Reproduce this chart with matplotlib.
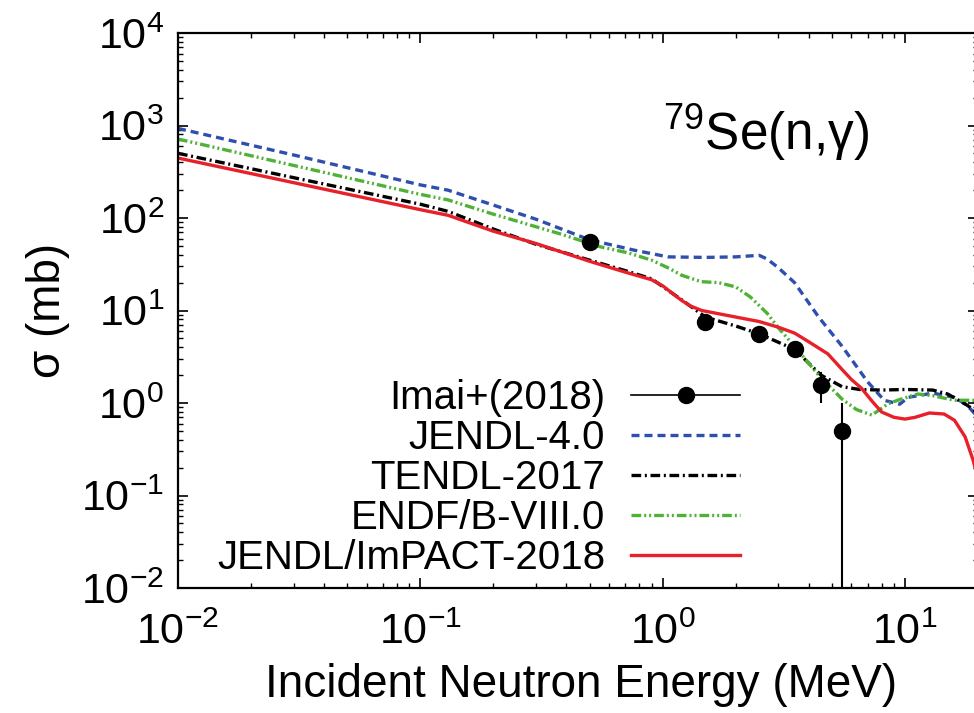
import matplotlib
matplotlib.use("Agg")
import matplotlib.pyplot as plt
from matplotlib.lines import Line2D
from matplotlib.ticker import LogLocator, NullFormatter

plt.rcParams['font.family'] = ['Liberation Sans', 'DejaVu Sans']
plt.rcParams['mathtext.default'] = 'regular'
plt.rcParams['axes.unicode_minus'] = False

# Imai+(2018) measured points
imai_e = [0.5, 1.5, 2.5, 3.5, 4.5, 5.5]
imai_xs = [55, 7.5, 5.6, 3.8, 1.57, 0.50]
imai_err_lo = [7, 0.9, 0.6, 0.5, 0.57, 0.4999]
imai_err_hi = [7, 0.9, 0.6, 0.5, 0.57, 0.5]

# JENDL-4.0
j40_e = [0.01, 0.03, 0.1, 0.13, 0.2, 0.3, 0.5, 0.76, 1.05, 1.5, 2.0, 2.5,
         2.7, 3.0, 3.5, 4.4, 5.5, 7.0, 8.2, 9.5, 10.3, 13, 16, 18, 20]
j40_xs = [930, 480, 228, 200, 138, 97, 58, 45, 38, 37.5, 38, 39.5,
          36, 29, 20, 8.5, 4.1, 1.7, 1.07, 0.97, 1.15, 1.28, 1.15, 0.95, 0.7]

# TENDL-2017
tendl_e = [0.01, 0.03, 0.1, 0.13, 0.2, 0.3, 0.5, 0.7, 0.9, 1.2, 1.5, 2.0,
           2.5, 3.5, 4.5, 5.5, 6.5, 8, 10, 13, 15, 18, 20]
tendl_xs = [500, 273, 141, 118, 76, 52, 35, 27, 22, 13, 8.5, 6.8,
            5.6, 3.8, 2.0, 1.5, 1.4, 1.38, 1.4, 1.38, 1.25, 0.95, 0.78]

# ENDF/B-VIII.0
endf_e = [0.01, 0.03, 0.1, 0.13, 0.2, 0.38, 0.55, 0.72, 0.9, 1.05, 1.2, 1.44,
          1.7, 2.0, 2.3, 2.7, 3.0, 3.5, 4.4, 5.5, 6.3, 7.3, 8.5, 9.6, 11.3,
          13, 16, 20]
endf_xs = [714, 370, 180, 157, 110, 67, 49, 42, 35, 29, 24, 20.5,
           20, 18, 14, 9.3, 6.5, 4.1, 2.0, 1.1, 0.85, 0.74, 0.98, 1.1, 1.25,
           1.2, 1.07, 1.07]

# JENDL/ImPACT-2018
imp_e = [0.01, 0.03, 0.1, 0.13, 0.2, 0.3, 0.5, 0.7, 0.8, 0.9, 1.0, 1.1,
         1.2, 1.3, 1.45, 2.0, 2.5, 3.0, 3.5, 4.0, 4.8, 5.5, 6.0, 6.6, 7.3,
         8.0, 9.0, 10.0, 11.0, 12.6, 14.5, 16, 17.7, 19.1, 20]
imp_xs = [445, 241, 123, 107, 72, 53, 34, 26, 23.5, 21.5, 18.5, 15.2,
          12.8, 11.2, 10, 8.5, 7.6, 6.6, 5.7, 4.6, 3.4, 2.3, 1.8, 1.45, 1.05,
          0.8, 0.7, 0.67, 0.7, 0.78, 0.76, 0.65, 0.43, 0.24, 0.15]

fig = plt.figure(figsize=(9.74, 7.13), dpi=100)
ax = fig.add_axes([178 / 974, 1 - 588 / 713, 800 / 974, 555 / 713])

lw = 2.4
ax.plot(j40_e, j40_xs, color='#2f4fae', lw=lw, linestyle=(0, (2.4, 1.5)))
ax.plot(tendl_e, tendl_xs, color='black', lw=lw,
        linestyle=(0, (2.9, 1.1, 0.6, 1.1)))
ax.plot(endf_e, endf_xs, color='#4fb236', lw=lw,
        linestyle=(0, (2.9, 0.9, 0.6, 0.9, 0.6, 0.9)))
ax.plot(imp_e, imp_xs, color='#e8202a', lw=lw)
ax.errorbar(imai_e, imai_xs, yerr=[imai_err_lo, imai_err_hi], fmt='o',
            color='black', ms=11.5, elinewidth=1.5, capsize=0, zorder=5)

ax.set_xscale('log')
ax.set_yscale('log')
ax.set_xlim(0.01, 20)
ax.set_ylim(0.01, 1e4)

for axis in (ax.xaxis, ax.yaxis):
    axis.set_major_locator(LogLocator(base=10, numticks=20))
    axis.set_minor_locator(LogLocator(base=10, subs=range(2, 10), numticks=100))
    axis.set_minor_formatter(NullFormatter())

ax.tick_params(which='both', direction='in', top=True, right=True)
ax.tick_params(which='major', length=7, width=1.2, labelsize=31)
ax.tick_params(which='minor', length=3.5, width=1.0)
ax.tick_params(axis='x', pad=18)
ax.tick_params(axis='y', pad=10)
for sp in ax.spines.values():
    sp.set_linewidth(1.6)

ax.set_xlabel('Incident Neutron Energy (MeV)', fontsize=33)
ax.xaxis.set_label_coords(0.504, -0.135)
ax.set_ylabel('σ (mb)', fontsize=33)
ax.yaxis.set_label_coords(-0.135, 0.5)

ax.text(0.606, 0.789, '$^{79}$Se(n,γ)', transform=ax.transAxes,
        fontsize=37, ha='left', va='baseline')

handles = [
    Line2D([], [], color='black', lw=1.2, marker='o', ms=11.5),
    Line2D([], [], color='#2f4fae', lw=lw, linestyle=(0, (2.4, 1.5))),
    Line2D([], [], color='black', lw=lw, linestyle=(0, (2.9, 1.1, 0.6, 1.1))),
    Line2D([], [], color='#4fb236', lw=lw,
           linestyle=(0, (2.9, 0.9, 0.6, 0.9, 0.6, 0.9))),
    Line2D([], [], color='#e8202a', lw=lw),
]
labels = ['Imai+(2018)', 'JENDL-4.0', 'TENDL-2017', 'ENDF/B-VIII.0',
          'JENDL/ImPACT-2018']
ax.legend(handles, labels, loc='lower right', bbox_to_anchor=(0.7025, 0.02),
          markerfirst=False, frameon=False, fontsize=29, handlelength=2.7,
          handletextpad=0.65, labelspacing=0.05, borderpad=0,
          borderaxespad=0)

fig.savefig('out.png', dpi=100)
